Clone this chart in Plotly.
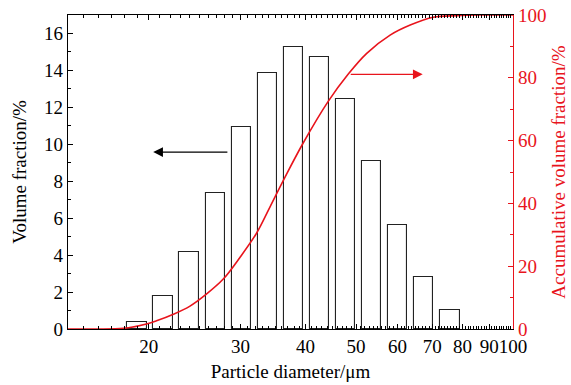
import numpy as np
import plotly.graph_objects as go

# ---- data ----
bin_centers_um = [19.0, 21.3, 23.9, 26.9, 30.1, 33.8, 37.9, 42.5, 47.7, 53.5, 60.0, 67.4, 75.7]
volume_fraction = [0.40, 1.77, 4.15, 7.38, 10.92, 13.84, 15.25, 14.74, 12.47, 9.10, 5.65, 2.80, 1.01]

cum_diam_um = [14.0, 15.4, 17.9, 19.8, 20.7, 22.3, 24.0, 25.8, 27.8, 29.9, 32.2, 34.2, 36.3,
               39.5, 44.2, 48.3, 52.4, 58.1, 63.5, 70.3, 78.0, 86.5, 100.0]
cum_fraction = [0.0, 0.0, 0.2, 1.6, 2.6, 4.7, 7.3, 11.1, 15.9, 22.7, 30.5, 39.0, 47.5,
                59.0, 72.5, 81.2, 87.8, 93.6, 96.8, 99.3, 99.8, 100.0, 100.0]

x_tick_vals = [20, 30, 40, 50, 60, 70, 80, 90, 100]
x_tick_text = ["20", "30", "40", "50", "60", "70", "80", "90", "100"]
x_minor_vals = [v for v in range(15, 100) if v % 10 != 0]

RED = "#e8141c"
FONT = "Liberation Serif, Times New Roman, serif"
FS = 19

# bar edges on the log axis (bar covers ~74% of each geometric bin)
half_log_width = 0.0185
c = np.array(bin_centers_um)
lo = c * 10 ** (-half_log_width)
hi = c * 10 ** (half_log_width)

fig = go.Figure()
fig.add_trace(go.Bar(
    x=bin_centers_um, y=volume_fraction,
    offset=list(lo - c), width=list(hi - lo),
    marker=dict(color="white", line=dict(color="#222222", width=1.1)),
    xaxis="x", yaxis="y", showlegend=False,
))
fig.add_trace(go.Scatter(
    x=cum_diam_um, y=cum_fraction, mode="lines",
    line=dict(color=RED, width=1.6, shape="spline", smoothing=1.0),
    xaxis="x", yaxis="y2", showlegend=False,
))

fig.update_layout(
    width=571, height=385,
    margin=dict(l=68, r=58, t=15, b=56),
    plot_bgcolor="white", paper_bgcolor="white",
    font=dict(family=FONT, size=FS, color="black"),
    bargap=0,
    xaxis=dict(
        type="log", range=[np.log10(14), 2], automargin=False, tickangle=0,
        tickmode="array", tickvals=x_tick_vals, ticktext=x_tick_text,
        ticks="inside", ticklen=5, tickwidth=1, tickcolor="black",
        minor=dict(tickmode="array", tickvals=x_minor_vals, ticks="inside", ticklen=3,
                   tickwidth=1, tickcolor="black", showgrid=False),
        showline=True, linecolor="black", linewidth=1.2, mirror="ticks",
        showgrid=False, zeroline=False,
        tickfont=dict(size=FS, family=FONT),
        title=dict(text="Particle diameter/μm", standoff=8, font=dict(size=FS, family=FONT)),
    ),
    yaxis=dict(
        range=[0, 17], tickmode="linear", tick0=0, dtick=2, automargin=False, tickangle=0,
        ticks="inside", ticklen=5, tickwidth=1, tickcolor="black",
        minor=dict(dtick=1, ticks="inside", ticklen=3, tickwidth=1, tickcolor="black"),
        showline=True, linecolor="black", linewidth=1.2, mirror=False,
        showgrid=False, zeroline=False,
        tickfont=dict(size=FS, family=FONT),
        title=dict(text="Volume fraction/%", standoff=12, font=dict(size=FS, family=FONT)),
    ),
    yaxis2=dict(
        overlaying="y", side="right", range=[0, 100], tickmode="linear", tick0=0, dtick=20,
        automargin=False, tickangle=0,
        ticks="inside", ticklen=5, tickwidth=1, tickcolor=RED,
        minor=dict(dtick=10, ticks="inside", ticklen=3, tickwidth=1, tickcolor=RED),
        showline=True, linecolor=RED, linewidth=1.2,
        showgrid=False, zeroline=False,
        tickfont=dict(size=FS, family=FONT, color=RED),
        title=dict(text="Accumulative volume fraction/%", standoff=6,
                   font=dict(size=FS, family=FONT, color=RED)),
    ),
    annotations=[
        dict(x=np.log10(20.4), y=9.58, xref="x", yref="y",
             ax=np.log10(28.5), ay=9.58, axref="x", ayref="y",
             showarrow=True, arrowhead=2, arrowsize=1.5, arrowwidth=1.3,
             arrowcolor="black", text=""),
        dict(x=np.log10(67.1), y=81.1, xref="x", yref="y2",
             ax=np.log10(48.5), ay=81.1, axref="x", ayref="y2",
             showarrow=True, arrowhead=2, arrowsize=1.5, arrowwidth=1.3,
             arrowcolor=RED, text=""),
    ],
)

fig.write_html("out.html")
